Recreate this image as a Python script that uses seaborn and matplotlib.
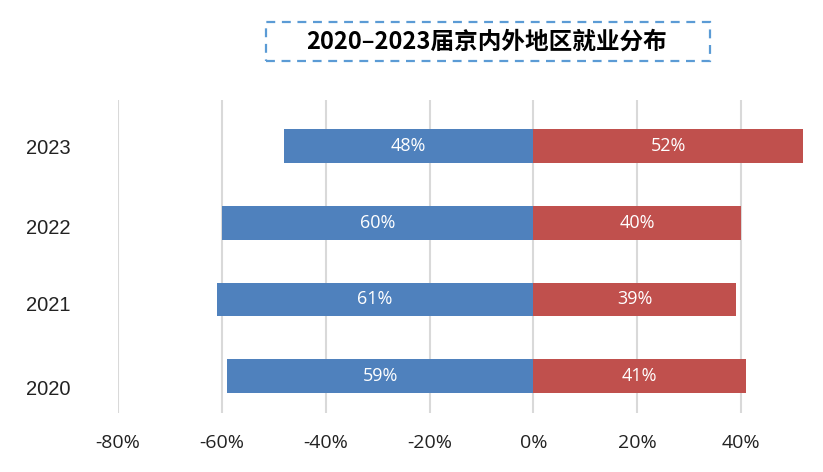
import matplotlib
matplotlib.use("Agg")
import matplotlib.pyplot as plt
import matplotlib.transforms as mtransforms
import seaborn as sns
import pandas as pd
from matplotlib.ticker import FuncFormatter
from matplotlib.patches import Rectangle
from matplotlib import font_manager

years = ["2023", "2022", "2021", "2020"]
inside_pct = [48, 60, 61, 59]   # 京内 (drawn to the left)
outside_pct = [52, 40, 39, 41]  # 京外 (drawn to the right)
title = "2020–2023届京内外地区就业分布"
xticks = [-80, -60, -40, -20, 0, 20, 40]

sns.set_theme(style="white")
plt.rcParams['font.family'] = ['Liberation Sans', 'Noto Sans CJK SC', 'DejaVu Sans']

names = {f.name for f in font_manager.fontManager.ttflist}
narrow = "Liberation Sans Narrow" if "Liberation Sans Narrow" in names else "Open Sans"

df_in = pd.DataFrame({"year": years, "v": [-x / 100 for x in inside_pct]})
df_out = pd.DataFrame({"year": years, "v": [x / 100 for x in outside_pct]})

fig = plt.figure(figsize=(8.23, 4.72), dpi=100)
ax = fig.add_axes([118 / 823, 1 - 413 / 472, (806 - 118) / 823, (413 - 100) / 472])

blue = "#4F81BD"
red = "#C0504D"
sns.barplot(data=df_in, x="v", y="year", order=years, color=blue, width=0.44,
            orient="h", ax=ax, saturation=1, linewidth=0)
sns.barplot(data=df_out, x="v", y="year", order=years, color=red, width=0.44,
            orient="h", ax=ax, saturation=1, linewidth=0)

for i, (a, b) in enumerate(zip(inside_pct, outside_pct)):
    ax.text(-a / 200, i, f"{a}%", color="white", ha="center", va="center",
            fontsize=13, family=["Open Sans", "DejaVu Sans"])
    ax.text(b / 200, i, f"{b}%", color="white", ha="center", va="center",
            fontsize=13, family=["Open Sans", "DejaVu Sans"])

ax.set_xlim(-0.8, 0.525)
ax.set_ylim(3.48, -0.6)
ax.set_xticks([t / 100 for t in xticks])
ax.xaxis.set_major_formatter(FuncFormatter(lambda v, p: f"{round(v*100):d}%"))
ax.grid(axis="x", color="#D9D9D9", linewidth=1.5)
ax.set_axisbelow(True)
for s in ax.spines.values():
    s.set_visible(False)
ax.set_xlabel("")
ax.set_ylabel("")
ax.tick_params(axis="x", labelsize=14, pad=15, length=0, colors="#222222")
ax.tick_params(axis="y", labelsize=14.5, pad=34, length=0, colors="#222222")
for lab in ax.get_xticklabels():
    lab.set_family([narrow, "DejaVu Sans"])

# the reference's year labels sit slightly below their bars, more so lower down
drops_px = [0, 4, 4, 11]
for lab, d in zip(ax.get_yticklabels(), drops_px):
    lab.set_transform(lab.get_transform() +
                      mtransforms.ScaledTranslation(0, -d / 100, fig.dpi_scale_trans))

fig.patches.append(Rectangle((266 / 823, 1 - 61 / 472), (710 - 266) / 823, 39 / 472,
                             transform=fig.transFigure, facecolor="white",
                             edgecolor="#5B9BD5", linestyle=(0, (4, 3)), linewidth=1.6))
fig.text(487 / 823, 1 - 42 / 472, title, ha="center", va="center",
         fontsize=17, fontweight="bold", color="black",
         family=["Noto Sans CJK SC", "DejaVu Sans"])

fig.savefig("out.png", dpi=100)
